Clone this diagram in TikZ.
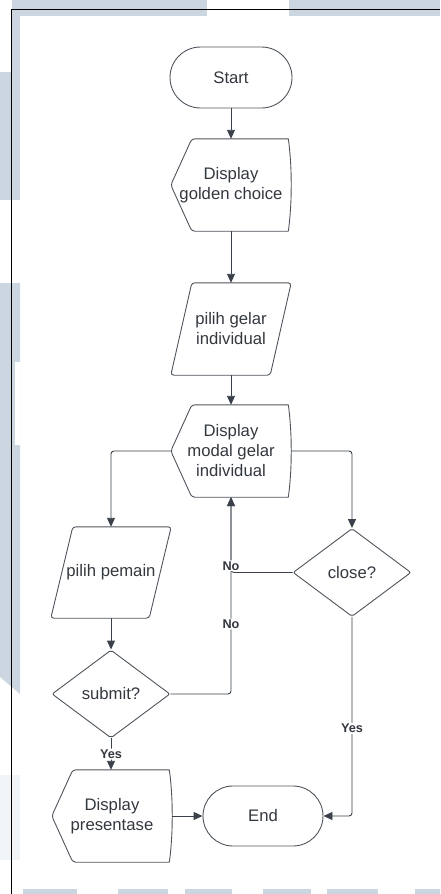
\documentclass[tikz,border=0pt]{standalone}
\usepackage{fontspec}
\setmainfont{Liberation Sans}
\usetikzlibrary{shapes.geometric,shapes.misc,arrows.meta,calc}
\definecolor{shapecol}{RGB}{78,84,92}
\definecolor{conncol}{RGB}{58,65,74}
\definecolor{txtcol}{RGB}{51,56,63}
\definecolor{wmark}{RGB}{204,214,225}
\definecolor{wfaint}{RGB}{242,245,248}

% display symbol: pointed left side, curved right side
\newcommand\dispoutline[1]{%
  \draw[outl] (#1.west) -- ($(#1.north west)+(21,0)$) -- ($(#1.north east)+(-6,0)$)
    .. controls ($(#1.north east)+(-2.7,0)$) and ($(#1.east)+(0,-25.4)$) .. (#1.east)
    .. controls ($(#1.east)+(0,25.4)$) and ($(#1.south east)+(-2.7,0)$) .. ($(#1.south east)+(-6,0)$)
    -- ($(#1.south west)+(21,0)$) -- cycle;}
% input/output symbol: parallelogram leaning right
\newcommand\paraoutline[2]{%
  \draw[outl] (#1.south west) -- ($(#1.south east)+(-#2,0)$) -- (#1.north east)
    -- ($(#1.north west)+(#2,0)$) -- cycle;}

\begin{document}
\begin{tikzpicture}[x=1pt,y=-1pt,
  outl/.style={draw=shapecol, line width=0.9pt, rounded corners=3pt},
  txt/.style={font=\fontsize{16.7}{20}\selectfont, text=txtcol, align=center},
  holder/.style={txt, rectangle, minimum width=120pt, minimum height=92pt, inner sep=0pt},
  term/.style={txt, rounded rectangle, draw=shapecol, line width=0.9pt,
    minimum width=122pt, minimum height=61pt, inner sep=0pt},
  decision/.style={txt, diamond, draw=shapecol, line width=0.9pt, rounded corners=2pt,
    minimum width=118pt, minimum height=88pt, inner sep=0pt},
  conn/.style={draw=conncol, line width=0.9pt, rounded corners=3pt,
    -{Triangle[length=9pt,width=8pt]}},
  lbl/.style={font=\bfseries\fontsize{12.7}{14}\selectfont, text=txtcol, fill=white, inner sep=1pt}]
\useasboundingbox (0,0) rectangle (440,894);

% page watermark blocks
\fill[wmark] (12,0) rectangle (207,16);
\fill[wmark] (289,0) rectangle (440,16);
\fill[wmark] (12,0) rectangle (20,200);
\fill[wmark] (0,72) rectangle (20,200);
\fill[wmark] (0,283) -- (20,283) -- (20,694) -- (0,677) -- cycle;
\fill[white] (15,362) rectangle (20,445);
\fill[wfaint] (0,775) rectangle (20,860);
\foreach \a/\b in {23/77,118/168,185/232,263/311,327/378,415/440}
  \fill[wmark] (\a,889) rectangle (\b,894);

% frame
\draw[black, line width=1pt] (440,9) -- (11.5,9) -- (11.5,894);

% nodes
\node[term] (start) at (231,77.5) {Start};
\node[holder] (dg) at (231,185) {Display\\golden choice};
\node[holder] (pg) at (231,329) {pilih gelar\\individual};
\node[holder] (dm) at (231,451) {Display\\modal gelar\\individual};
\node[holder, minimum height=91pt] (pp) at (111,572.5) {pilih pemain};
\node[decision] (cl) at (352,572.5) {close?};
\node[decision] (sb) at (111,694) {submit?};
\node[holder] (dp) at (112,816) {Display\\presentase};
\node[term, minimum width=120pt, minimum height=60pt] (en) at (263,816) {End};

\dispoutline{dg}
\dispoutline{dm}
\dispoutline{dp}
\paraoutline{pg}{21}
\paraoutline{pp}{22}

% connectors
\draw[conn] (start.south) -- (dg.north);
\draw[conn] (dg.south) -- (pg.north);
\draw[conn] (pg.south) -- (dm.north);
\draw[conn] (dm.west) -| (pp.north);
\draw[conn] (dm.east) -| (cl.north);
\draw[conn] (pp.south) -- (sb.north);
\draw[conn] (sb.south) -- node[lbl] {Yes} (sb.south |- dp.north);
\draw[conn] (dp.east) -- (en.west);
\draw[conn] (cl.south) |- node[lbl, pos=0.28] {Yes} (en.east);
\draw[conn] (sb.east) -| node[lbl, pos=0.678] {No} (dm.south);
\draw[conn] (cl.west) -| node[lbl, pos=0.545] {No} (dm.south);
\end{tikzpicture}
\end{document}
